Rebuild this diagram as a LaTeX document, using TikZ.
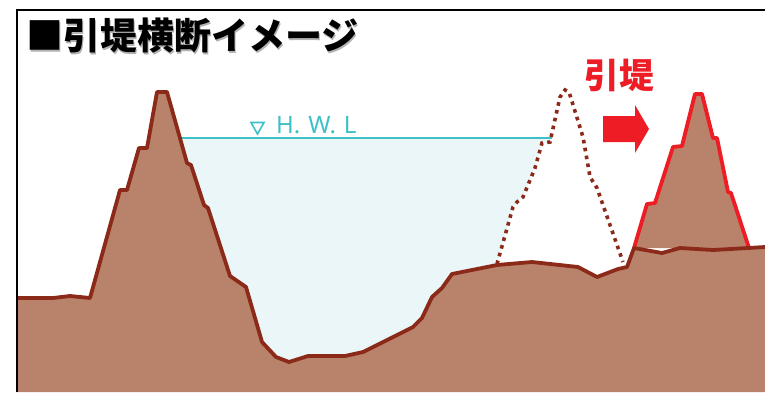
\documentclass[tikz,border=0pt]{standalone}
\usepackage{fontspec}
\newfontfamily\jpfont{Noto Sans CJK JP}
\setmainfont{Noto Sans}

\definecolor{soil}{HTML}{B9836B}
\definecolor{soilline}{HTML}{8C2A1A}
\definecolor{water}{HTML}{EAF6F8}
\definecolor{waterline}{HTML}{3EC1C6}
\definecolor{levee}{HTML}{EE1C24}

\tikzset{
  ground/.style={soilline,line width=3.8pt,line join=round},
  oldlevee/.style={soilline,line width=3.6pt,dash pattern=on 3.6pt off 4.4pt},
  newlevee/.style={levee,line width=3.8pt,line join=round,fill=soil},
  hwl/.style={waterline,line width=2pt}
}

% surface of the ground, left to right
\newcommand{\groundline}{(17,298) -- (53,298) -- (70,296) -- (90,298)
  -- (120,190) -- (127,190) -- (139,148) -- (147,148) -- (157,92) -- (167,92)
  -- (187,163) -- (191,165) -- (204,205) -- (208,208) -- (230,276) -- (246,287)
  -- (262,342) -- (276,357) -- (289,362) -- (308,356) -- (345,356) -- (363,352)
  -- (413,327) -- (422,318) -- (432,297) -- (442,288) -- (452,274) -- (497,265)
  -- (532,262) -- (578,267) -- (597,277) -- (618,269) -- (627,267) -- (634,248)
  -- (662,253) -- (680,248) -- (713,250) -- (748,248) -- (765,247)}

\begin{document}
\begin{tikzpicture}[x=1pt,y=-1pt]
  \useasboundingbox (0,0) rectangle (765,392);

  % water up to H.W.L
  \fill[water] (180,138) -- (187,163) -- (191,165) -- (204,205) -- (208,208)
    -- (230,276) -- (246,287) -- (262,342) -- (276,357) -- (289,362) -- (308,356)
    -- (345,356) -- (363,352) -- (413,327) -- (422,318) -- (432,297) -- (442,288)
    -- (452,274) -- (497,265) -- (513,207) -- (517,202) -- (523,197) -- (535,168)
    -- (542,143) -- (550,142) -- (552,138) -- cycle;
  \draw[hwl] (180,138) -- (552,138);
  \draw[hwl,line width=1.6pt,line join=miter] (251,122.5) -- (264,122.5) -- (257.5,134) -- cycle;
  \node[waterline,font=\fontsize{24}{24}\selectfont,anchor=base west,inner sep=0]
    (hwltext) at (276,133) {H.\,\,W.\,\,L};

  % new levee, then the ground over it
  \draw[newlevee] (634,248) -- (647,204) -- (655,203) -- (673,147) -- (682,146)
    -- (695,94) -- (702,94) -- (713,138) -- (717,138) -- (728,192) -- (731,193)
    -- (749,248);
  \fill[soil] \groundline -- (765,392) -- (17,392) -- cycle;
  \draw[ground] \groundline;

  % old levee
  \draw[oldlevee] (497,264) -- (513,207) -- (517,202) -- (523,197) -- (535,168)
    -- (542,143) -- (550,142) -- (560,97) -- (565,90) -- (569,92) -- (583,137)
    -- (590,177) -- (597,188) -- (623,262);

  % moving arrow and label
  \fill[levee] (603,116) -- (635,116) -- (635,105) -- (649,129) -- (635,153)
    -- (635,142) -- (603,142) -- cycle;
  \node[levee,font=\jpfont\bfseries\fontsize{35}{35}\selectfont,inner sep=0]
    (movelabel) at (619,75) {引堤};

  % frame and title
  \draw[line width=1.5pt] (17,392) -- (17,10) -- (765,10);
  \node[gray!60,font=\jpfont\bfseries\fontsize{37}{37}\selectfont,anchor=west,inner sep=0]
    (titleshadow) at (27.5,37.5) {■引堤横断イメージ};
  \node[font=\jpfont\bfseries\fontsize{37}{37}\selectfont,anchor=west,inner sep=0]
    (title) at (26,36) {■引堤横断イメージ};
\end{tikzpicture}
\end{document}
